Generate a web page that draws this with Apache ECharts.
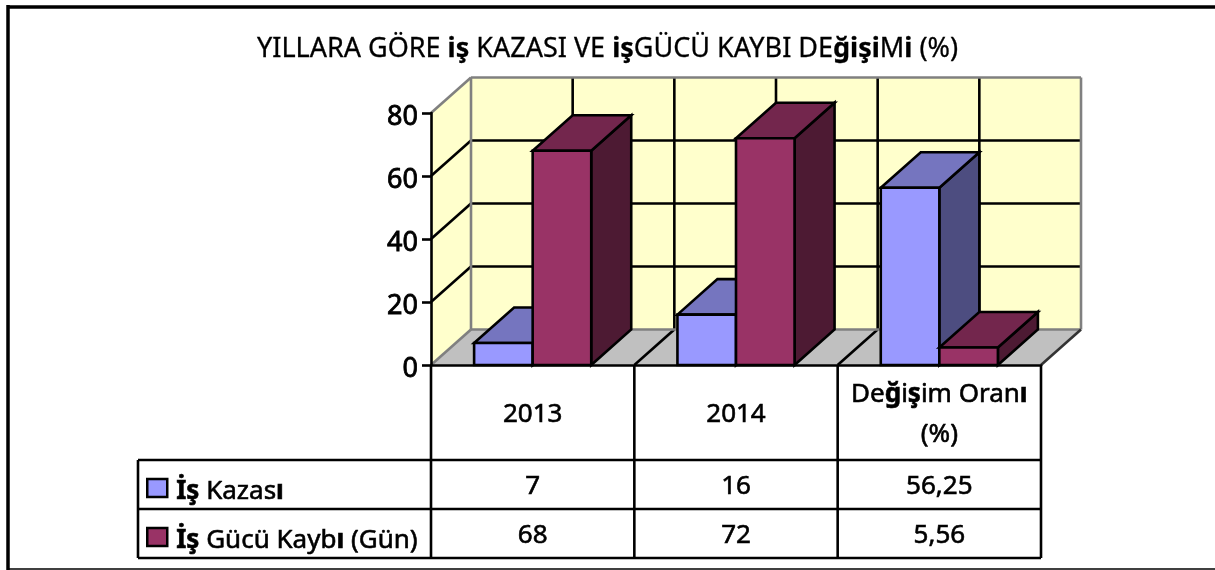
<!DOCTYPE html>
<html><head><meta charset="utf-8">
<style>html,body{margin:0;padding:0;background:#fff}#c{width:1215px;height:570px}</style>
<script src="https://cdn.jsdelivr.net/npm/echarts@6/dist/echarts.min.js"></script>
</head><body><div id="c"></div>
<script>
const categories = ['2013', '2014', 'Değişim Oranı\n(%)'];
const kaza = [7, 16, 56.25];
const gucu = [68, 72, 5.56];
const yTicks = [0, 20, 40, 60, 80];
const seriesNames = ['İş Kazası', 'İş Gücü Kaybı (Gün)'];
const titleText = 'YILLARA GÖRE {b|iş} KAZASI VE {b|iş}GÜCÜ KAYBI DE{b|ğişi}M{b|i} (%)';

const FONT = 'Noto Sans';
const FS = 26;
const DX = 40, DY = -35.5;
const LW = 2.6;
const ROW_Y = [460, 509, 558];
const LEFT_X = 138;
const fmt = v => String(v).replace('.', ',');
const boldFallback = s => s.replace(/[ğşıİ]/g, '{b|$&}');
const body = {fontFamily:FONT, fontSize:FS, color:'#000', textBorderColor:'#000', textBorderWidth:0.6};
const bold = {fontFamily:FONT, fontSize:FS, color:'#000', fontWeight:'bold'};

function poly(pts, fill, stroke, lw) {
  return {type:'polygon', shape:{points:pts}, style:{fill:fill||'none', stroke:stroke||'#000', lineWidth:lw==null?LW:lw}};
}
function line(a, b, stroke, lw) {
  return {type:'line', shape:{x1:a[0],y1:a[1],x2:b[0],y2:b[1]}, style:{stroke:stroke||'#000', lineWidth:lw||LW}};
}

function sceneItem(params, api) {
  const o = api.coord([0, 0]);
  const cw = api.size([1, 0])[0];
  const L = o[0] - cw / 2, R = L + 3 * cw, B = o[1];
  const T = api.coord([0, yTicks[yTicks.length - 1]])[1];
  const ch = [];
  ch.push(poly([[L,T],[L+DX,T+DY],[L+DX,B+DY],[L,B]], '#FFFFCC', 'none', 0));
  ch.push(poly([[L+DX,T+DY],[R+DX,T+DY],[R+DX,B+DY],[L+DX,B+DY]], '#FFFFCC', 'none', 0));
  ch.push(poly([[L,B],[L+DX,B+DY],[R+DX,B+DY],[R,B]], '#C0C0C0', 'none', 0));
  yTicks.slice(1, -1).forEach(t => {
    const y = api.coord([0, t])[1];
    ch.push(line([L, y], [L+DX, y+DY]));
    ch.push(line([L+DX, y+DY], [R+DX, y+DY]));
  });
  for (let i = 1; i < 6; i++) {
    const x = L + DX + i * cw / 2;
    ch.push(line([x, T+DY], [x, B+DY]));
  }
  for (let i = 1; i < 3; i++) {
    const x = L + i * cw;
    ch.push(line([x, B], [x+DX, B+DY]));
  }
  ch.push(line([L+DX, T+DY], [R+DX, T+DY], '#808080'));
  ch.push(line([L+DX, T+DY], [L+DX, B+DY], '#808080'));
  ch.push(line([R+DX, T+DY], [R+DX, B+DY], '#808080'));
  ch.push(line([L+DX, B+DY], [R+DX, B+DY], '#808080'));
  ch.push(line([L, T], [L+DX, T+DY], '#808080'));
  ch.push(line([L, B], [L+DX, B+DY], '#808080'));
  ch.push(line([R, B], [R+DX, B+DY], '#333'));
  return {type:'group', children:ch};
}

function barRenderer(slot, front, top, side) {
  return function (params, api) {
    const cat = api.value(0), val = api.value(1);
    const b = api.coord([cat, 0]), t = api.coord([cat, val]);
    const w = api.size([1, 0])[0] * 0.288;
    const x0 = b[0] + slot * w, x1 = x0 + w, y0 = t[1], y1 = b[1];
    return {type:'group', children:[
      poly([[x1,y0],[x1+DX,y0+DY],[x1+DX,y1+DY],[x1,y1]], side),
      poly([[x0,y0],[x0+DX,y0+DY],[x1+DX,y0+DY],[x1,y0]], top),
      poly([[x0,y0],[x1,y0],[x1,y1],[x0,y1]], front)
    ]};
  };
}

function tableItem(params, api) {
  const o = api.coord([0, 0]);
  const cw = api.size([1, 0])[0];
  const L = o[0] - cw / 2, B = o[1];
  const ch = [];
  for (let i = 0; i <= 3; i++) {
    ch.push(line([L + i*cw, B], [L + i*cw, ROW_Y[2]]));
  }
  ch.push(line([LEFT_X, ROW_Y[0]], [L + 3*cw, ROW_Y[0]]));
  ch.push(line([LEFT_X, ROW_Y[1]], [L + 3*cw, ROW_Y[1]]));
  ch.push(line([LEFT_X, ROW_Y[2]], [L + 3*cw, ROW_Y[2]]));
  ch.push(line([LEFT_X, ROW_Y[0]], [LEFT_X, ROW_Y[2]]));
  [kaza, gucu].forEach((arr, r) => arr.forEach((v, i) => {
    ch.push({type:'text', style:{text:fmt(v), x:L + (i+0.5)*cw, y:(ROW_Y[r]+ROW_Y[r+1])/2 + 2,
      align:'center', verticalAlign:'middle', fill:'#000', fontFamily:FONT, fontSize:FS, stroke:'#000', lineWidth:0.6}});
  }));
  return {type:'group', children:ch};
}

const chart = echarts.init(document.getElementById('c'), null, {renderer:'canvas'});
chart.setOption({
  animation:false,
  backgroundColor:'#fff',
  title:{
    left:'center', top:31,
    text:titleText,
    textStyle:{fontFamily:FONT, fontWeight:'normal', fontSize:27, color:'#000', textBorderColor:'#000', textBorderWidth:0.3,
      rich:{b:{fontFamily:FONT, fontWeight:'bold', fontSize:27, color:'#000'}}}
  },
  legend:{
    orient:'vertical', left:141, top:464, itemWidth:20, itemHeight:18, itemGap:11, itemStyle:{borderColor:'#000', borderWidth:2.5},
    icon:'rect', data:seriesNames, selectedMode:false,
    formatter:n => '{sp| }' + boldFallback(n),
    textStyle:Object.assign({}, body, {lineHeight:30, padding:[8,0,0,0], rich:{b:Object.assign({}, bold, {lineHeight:30}), sp:{width:4, lineHeight:30, fontSize:4}}})
  },
  grid:{left:431, top:113, width:610, height:252},
  xAxis:{type:'category', data:categories, z:10,
    axisLine:{lineStyle:{color:'#000', width:LW}}, axisTick:{show:false},
    axisLabel:Object.assign({}, body, {interval:0, margin:50, verticalAlign:'middle', lineHeight:40,
      formatter:v => boldFallback(v), rich:{b:Object.assign({}, bold, {lineHeight:40})}})},
  yAxis:{type:'value', min:0, max:80, interval:20, z:10,
    axisLine:{show:true, lineStyle:{color:'#000', width:LW}},
    axisTick:{show:true, length:9, lineStyle:{color:'#000', width:LW}},
    splitLine:{show:false},
    axisLabel:Object.assign({}, body, {margin:13, fontSize:27, textBorderWidth:0.8, verticalAlign:'top', lineHeight:8})},
  graphic:[
    {type:'line', z:20, shape:{x1:8,y1:7,x2:1215,y2:7}, style:{stroke:'#000', lineWidth:3.5}},
    {type:'line', z:20, shape:{x1:8,y1:5,x2:8,y2:570}, style:{stroke:'#000', lineWidth:3.5}},
    {type:'line', z:20, shape:{x1:7,y1:569,x2:1215,y2:569}, style:{stroke:'#000', lineWidth:1.5}}
  ],
  series:[
    {type:'custom', z:1, silent:true, data:[[0]], renderItem:sceneItem, clip:false, encode:{x:0}},
    {type:'custom', z:2, name:seriesNames[0], itemStyle:{color:'#9999FF'}, clip:false,
      data:kaza.map((v,i)=>[i,v]), encode:{x:0,y:1}, renderItem:barRenderer(-1,'#9999FF','#7575BF','#4D4D80')},
    {type:'custom', z:3, name:seriesNames[1], itemStyle:{color:'#993366'}, clip:false,
      data:gucu.map((v,i)=>[i,v]), encode:{x:0,y:1}, renderItem:barRenderer(0,'#993366','#73264D','#4D1A33')},
    {type:'custom', z:4, silent:true, data:[[0]], renderItem:tableItem, clip:false, encode:{x:0}}
  ]
});
</script></body></html>
